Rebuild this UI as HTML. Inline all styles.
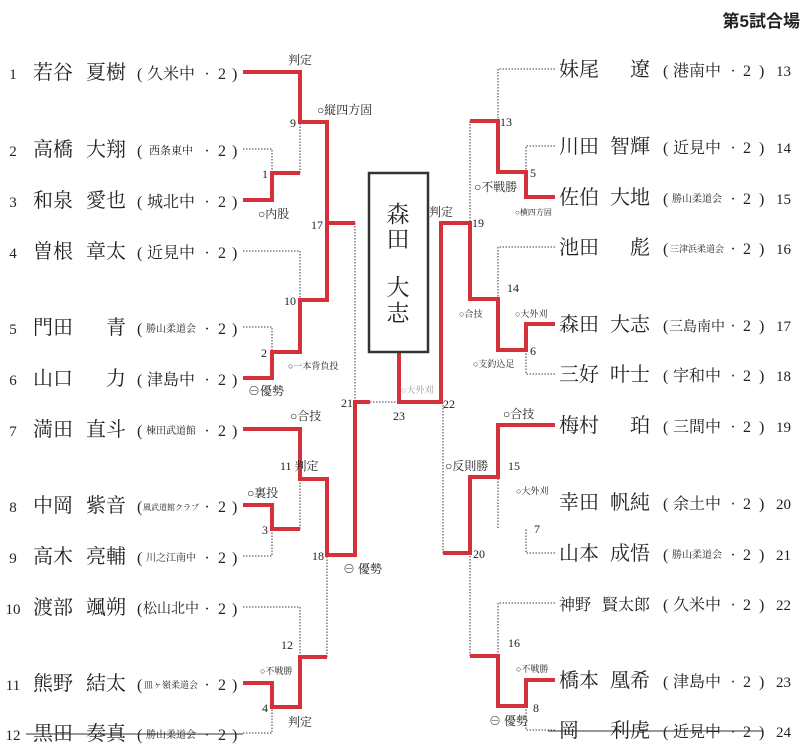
<!DOCTYPE html>
<html><head><meta charset="utf-8"><style>
html,body{margin:0;padding:0;background:#fff;}
svg{display:block;}
text{font-family:"Liberation Serif","Noto Serif CJK SC","Noto Sans CJK JP",serif;fill:#222;}
.s{font-family:"Liberation Sans","Noto Sans CJK JP",sans-serif;}
.nm{font-size:20px;}
.sc{font-size:16px;}
.ss{font-size:10px;}
.n{font-size:15px;}
.l{font-family:"Noto Sans CJK JP",sans-serif;font-size:12px;}
.r{fill:none;stroke:#d3323a;stroke-width:4;stroke-linejoin:miter;}
.d{fill:none;stroke:#666;stroke-width:1.3;stroke-dasharray:1.5 1.5;}
</style></head><body>
<svg width="812" height="751" viewBox="0 0 812 751" xmlns="http://www.w3.org/2000/svg">
<text x="800" y="27" text-anchor="end" class="s" style="font-size:17px;font-weight:bold">第5試合場</text>

<path class="d" d="M243,149H272V173 M300,173V122 M243,251H300V300 M243,327H272V352 M355,223V402 M370,402H399 M300,529V479 M243,556H272V529 M243,607H300V657 M327,657V555 M243,733H272V707"/>
<path class="d" d="M555,69H498V121 M555,146H526V172 M470,121V223 M555,247H498V299 M555,374H526V350 M443,402V553 M498,528V477 M555,553H526V528 M555,603H498V656 M470,553V656 M555,730H526V706"/>
<path class="r" d="M243,72H300V122H327V223H355"/>
<path class="r" d="M243,200H272V173H300"/>
<path class="r" d="M243,378H272V352H300V300H327V223"/>
<path class="r" d="M243,429H300V479H327V555H355V402H370"/>
<path class="r" d="M243,505H272V529H300"/>
<path class="r" d="M243,683H272V707H300V657H327"/>
<path class="r" d="M399,352V402H441V223H470V299H498V350H526V324H555"/>
<path class="r" d="M470,121H498V172H526V197H555"/>
<path class="r" d="M443,553H470V477H498V425H555"/>
<path class="r" d="M470,656H498V706H526V680H555"/>

<rect x="369" y="173" width="59" height="179" fill="#fff" stroke="#333" stroke-width="2.5"/>
<g class="s" style="font-size:23px" text-anchor="middle">
<text x="398" y="222">森</text><text x="398" y="247">田</text>
<text x="398" y="295">大</text><text x="398" y="321">志</text>
</g>

<g>
<text class="n" x="13" y="79" text-anchor="middle">1</text><text class="nm" x="33" y="79">若谷</text><text class="nm" x="126" y="79" text-anchor="end">夏樹</text><text class="sc" x="137" y="79">(</text><text class="sc" x="171" y="79" text-anchor="middle">久米中</text><text class="sc" x="207" y="79" text-anchor="middle">·</text><text class="sc" x="222" y="79" text-anchor="middle">2</text><text class="sc" x="232" y="79">)</text>
<text class="n" x="13" y="156" text-anchor="middle">2</text><text class="nm" x="33" y="156">高橋</text><text class="nm" x="126" y="156" text-anchor="end">大翔</text><text class="sc" x="137" y="156">(</text><text class="ss" x="171" y="154" text-anchor="middle" style="font-size:11px">西条東中</text><text class="sc" x="207" y="156" text-anchor="middle">·</text><text class="sc" x="222" y="156" text-anchor="middle">2</text><text class="sc" x="232" y="156">)</text>
<text class="n" x="13" y="207" text-anchor="middle">3</text><text class="nm" x="33" y="207">和泉</text><text class="nm" x="126" y="207" text-anchor="end">愛也</text><text class="sc" x="137" y="207">(</text><text class="sc" x="171" y="207" text-anchor="middle">城北中</text><text class="sc" x="207" y="207" text-anchor="middle">·</text><text class="sc" x="222" y="207" text-anchor="middle">2</text><text class="sc" x="232" y="207">)</text>
<text class="n" x="13" y="258" text-anchor="middle">4</text><text class="nm" x="33" y="258">曽根</text><text class="nm" x="126" y="258" text-anchor="end">章太</text><text class="sc" x="137" y="258">(</text><text class="sc" x="171" y="258" text-anchor="middle">近見中</text><text class="sc" x="207" y="258" text-anchor="middle">·</text><text class="sc" x="222" y="258" text-anchor="middle">2</text><text class="sc" x="232" y="258">)</text>
<text class="n" x="13" y="334" text-anchor="middle">5</text><text class="nm" x="33" y="334">門田</text><text class="nm" x="126" y="334" text-anchor="end">青</text><text class="sc" x="137" y="334">(</text><text class="ss" x="171" y="332" text-anchor="middle">勝山柔道会</text><text class="sc" x="207" y="334" text-anchor="middle">·</text><text class="sc" x="222" y="334" text-anchor="middle">2</text><text class="sc" x="232" y="334">)</text>
<text class="n" x="13" y="385" text-anchor="middle">6</text><text class="nm" x="33" y="385">山口</text><text class="nm" x="126" y="385" text-anchor="end">力</text><text class="sc" x="137" y="385">(</text><text class="sc" x="171" y="385" text-anchor="middle">津島中</text><text class="sc" x="207" y="385" text-anchor="middle">·</text><text class="sc" x="222" y="385" text-anchor="middle">2</text><text class="sc" x="232" y="385">)</text>
<text class="n" x="13" y="436" text-anchor="middle">7</text><text class="nm" x="33" y="436">満田</text><text class="nm" x="126" y="436" text-anchor="end">直斗</text><text class="sc" x="137" y="436">(</text><text class="ss" x="171" y="434" text-anchor="middle">棟田武道館</text><text class="sc" x="207" y="436" text-anchor="middle">·</text><text class="sc" x="222" y="436" text-anchor="middle">2</text><text class="sc" x="232" y="436">)</text>
<text class="n" x="13" y="512" text-anchor="middle">8</text><text class="nm" x="33" y="512">中岡</text><text class="nm" x="126" y="512" text-anchor="end">紫音</text><text class="sc" x="137" y="512">(</text><text class="ss" x="171" y="510" text-anchor="middle" style="font-size:8px">風武道館クラブ</text><text class="sc" x="207" y="512" text-anchor="middle">·</text><text class="sc" x="222" y="512" text-anchor="middle">2</text><text class="sc" x="232" y="512">)</text>
<text class="n" x="13" y="563" text-anchor="middle">9</text><text class="nm" x="33" y="563">高木</text><text class="nm" x="126" y="563" text-anchor="end">亮輔</text><text class="sc" x="137" y="563">(</text><text class="ss" x="171" y="561" text-anchor="middle">川之江南中</text><text class="sc" x="207" y="563" text-anchor="middle">·</text><text class="sc" x="222" y="563" text-anchor="middle">2</text><text class="sc" x="232" y="563">)</text>
<text class="n" x="13" y="614" text-anchor="middle">10</text><text class="nm" x="33" y="614">渡部</text><text class="nm" x="126" y="614" text-anchor="end">颯朔</text><text class="sc" x="137" y="614">(</text><text class="sc" x="171" y="613" text-anchor="middle" style="font-size:14px">松山北中</text><text class="sc" x="207" y="614" text-anchor="middle">·</text><text class="sc" x="222" y="614" text-anchor="middle">2</text><text class="sc" x="232" y="614">)</text>
<text class="n" x="13" y="690" text-anchor="middle">11</text><text class="nm" x="33" y="690">熊野</text><text class="nm" x="126" y="690" text-anchor="end">結太</text><text class="sc" x="137" y="690">(</text><text class="ss" x="171" y="688" text-anchor="middle" style="font-size:9px">皿ヶ嶺柔道会</text><text class="sc" x="207" y="690" text-anchor="middle">·</text><text class="sc" x="222" y="690" text-anchor="middle">2</text><text class="sc" x="232" y="690">)</text>
<text class="n" x="13" y="740" text-anchor="middle">12</text><text class="nm" x="33" y="740">黒田</text><text class="nm" x="126" y="740" text-anchor="end">奏真</text><text class="sc" x="137" y="740">(</text><text class="ss" x="171" y="738" text-anchor="middle">勝山柔道会</text><text class="sc" x="207" y="740" text-anchor="middle">·</text><text class="sc" x="222" y="740" text-anchor="middle">2</text><text class="sc" x="232" y="740">)</text>
<line x1="26" y1="734" x2="243" y2="734" stroke="#333" stroke-width="1"/>
</g>

<g>
<text class="nm" x="559" y="76">妹尾</text><text class="nm" x="650" y="76" text-anchor="end">遼</text><text class="sc" x="663" y="76">(</text><text class="sc" x="697" y="76" text-anchor="middle">港南中</text><text class="sc" x="733" y="76" text-anchor="middle">·</text><text class="sc" x="747" y="76" text-anchor="middle">2</text><text class="sc" x="759" y="76">)</text><text class="n" x="776" y="76">13</text>
<text class="nm" x="559" y="153">川田</text><text class="nm" x="650" y="153" text-anchor="end">智輝</text><text class="sc" x="663" y="153">(</text><text class="sc" x="697" y="153" text-anchor="middle">近見中</text><text class="sc" x="733" y="153" text-anchor="middle">·</text><text class="sc" x="747" y="153" text-anchor="middle">2</text><text class="sc" x="759" y="153">)</text><text class="n" x="776" y="153">14</text>
<text class="nm" x="559" y="204">佐伯</text><text class="nm" x="650" y="204" text-anchor="end">大地</text><text class="sc" x="663" y="204">(</text><text class="ss" x="697" y="202" text-anchor="middle">勝山柔道会</text><text class="sc" x="733" y="204" text-anchor="middle">·</text><text class="sc" x="747" y="204" text-anchor="middle">2</text><text class="sc" x="759" y="204">)</text><text class="n" x="776" y="204">15</text>
<text class="nm" x="559" y="254">池田</text><text class="nm" x="650" y="254" text-anchor="end">彪</text><text class="sc" x="663" y="254">(</text><text class="ss" x="697" y="252" text-anchor="middle" style="font-size:9px">三津浜柔道会</text><text class="sc" x="733" y="254" text-anchor="middle">·</text><text class="sc" x="747" y="254" text-anchor="middle">2</text><text class="sc" x="759" y="254">)</text><text class="n" x="776" y="254">16</text>
<text class="nm" x="559" y="331">森田</text><text class="nm" x="650" y="331" text-anchor="end">大志</text><text class="sc" x="663" y="331">(</text><text class="sc" x="697" y="331" text-anchor="middle" style="font-size:14px">三島南中</text><text class="sc" x="733" y="331" text-anchor="middle">·</text><text class="sc" x="747" y="331" text-anchor="middle">2</text><text class="sc" x="759" y="331">)</text><text class="n" x="776" y="331">17</text>
<text class="nm" x="559" y="381">三好</text><text class="nm" x="650" y="381" text-anchor="end">叶士</text><text class="sc" x="663" y="381">(</text><text class="sc" x="697" y="381" text-anchor="middle">宇和中</text><text class="sc" x="733" y="381" text-anchor="middle">·</text><text class="sc" x="747" y="381" text-anchor="middle">2</text><text class="sc" x="759" y="381">)</text><text class="n" x="776" y="381">18</text>
<text class="nm" x="559" y="432">梅村</text><text class="nm" x="650" y="432" text-anchor="end">珀</text><text class="sc" x="663" y="432">(</text><text class="sc" x="697" y="432" text-anchor="middle">三間中</text><text class="sc" x="733" y="432" text-anchor="middle">·</text><text class="sc" x="747" y="432" text-anchor="middle">2</text><text class="sc" x="759" y="432">)</text><text class="n" x="776" y="432">19</text>
<text class="nm" x="559" y="509">幸田</text><text class="nm" x="650" y="509" text-anchor="end">帆純</text><text class="sc" x="663" y="509">(</text><text class="sc" x="697" y="509" text-anchor="middle">余土中</text><text class="sc" x="733" y="509" text-anchor="middle">·</text><text class="sc" x="747" y="509" text-anchor="middle">2</text><text class="sc" x="759" y="509">)</text><text class="n" x="776" y="509">20</text>
<text class="nm" x="559" y="560">山本</text><text class="nm" x="650" y="560" text-anchor="end">成悟</text><text class="sc" x="663" y="560">(</text><text class="ss" x="697" y="558" text-anchor="middle">勝山柔道会</text><text class="sc" x="733" y="560" text-anchor="middle">·</text><text class="sc" x="747" y="560" text-anchor="middle">2</text><text class="sc" x="759" y="560">)</text><text class="n" x="776" y="560">21</text>
<text class="nm" x="559" y="610" style="font-size:16px">神野</text><text class="nm" x="650" y="610" text-anchor="end" style="font-size:16px">賢太郎</text><text class="sc" x="663" y="610">(</text><text class="sc" x="697" y="610" text-anchor="middle">久米中</text><text class="sc" x="733" y="610" text-anchor="middle">·</text><text class="sc" x="747" y="610" text-anchor="middle">2</text><text class="sc" x="759" y="610">)</text><text class="n" x="776" y="610">22</text>
<text class="nm" x="559" y="687">橋本</text><text class="nm" x="650" y="687" text-anchor="end">凰希</text><text class="sc" x="663" y="687">(</text><text class="sc" x="697" y="687" text-anchor="middle">津島中</text><text class="sc" x="733" y="687" text-anchor="middle">·</text><text class="sc" x="747" y="687" text-anchor="middle">2</text><text class="sc" x="759" y="687">)</text><text class="n" x="776" y="687">23</text>
<text class="nm" x="559" y="737">岡</text><text class="nm" x="650" y="737" text-anchor="end">利虎</text><text class="sc" x="663" y="737">(</text><text class="sc" x="697" y="737" text-anchor="middle">近見中</text><text class="sc" x="733" y="737" text-anchor="middle">·</text><text class="sc" x="747" y="737" text-anchor="middle">2</text><text class="sc" x="759" y="737">)</text><text class="n" x="776" y="737">24</text>
<line x1="548" y1="731" x2="762" y2="731" stroke="#333" stroke-width="1"/>
</g>

<g class="l">
<text x="288" y="64">判定</text>
<text x="317" y="114">○縦四方固</text>
<text x="290" y="127">9</text>
<text x="262" y="178">1</text>
<text x="258" y="218">○内股</text>
<text x="311" y="229">17</text>
<text x="284" y="305">10</text>
<text x="261" y="357">2</text>
<text x="288" y="369" style="font-size:9px">○一本背負投</text>
<text x="248" y="395">⊖優勢</text>
<text x="341" y="407">21</text>
<text x="290" y="420">○合技</text>
<text x="280" y="470">11 判定</text>
<text x="247" y="497">○裏投</text>
<text x="262" y="534">3</text>
<text x="312" y="560">18</text>
<text x="343" y="573">⊖ 優勢</text>
<text x="281" y="649">12</text>
<text x="260" y="674" style="font-size:9px">○不戦勝</text>
<text x="262" y="712">4</text>
<text x="288" y="726">判定</text>
</g>
<g class="l">
<text x="500" y="126">13</text>
<text x="530" y="177">5</text>
<text x="474" y="191">○不戦勝</text>
<text x="515" y="215" style="font-size:8px">○横四方固</text>
<text x="429" y="216">判定</text>
<text x="472" y="227">19</text>
<text x="507" y="292">14</text>
<text x="459" y="317" style="font-size:9px">○合技</text>
<text x="515" y="317" style="font-size:9px">○大外刈</text>
<text x="530" y="355">6</text>
<text x="473" y="367" style="font-size:9px">○支釣込足</text>
<text x="401" y="393" style="font-size:9px;fill:#999">○大外刈</text>
<text x="443" y="408">22</text>
<text x="393" y="420">23</text>
<text x="503" y="418">○合技</text>
<text x="445" y="470">○反則勝</text>
<text x="508" y="470">15</text>
<text x="516" y="494" style="font-size:9px">○大外刈</text>
<text x="534" y="533">7</text>
<text x="473" y="558">20</text>
<text x="508" y="647">16</text>
<text x="516" y="672" style="font-size:9px">○不戦勝</text>
<text x="533" y="712">8</text>
<text x="489" y="725">⊖ 優勢</text>
</g>
</svg>
</body></html>
